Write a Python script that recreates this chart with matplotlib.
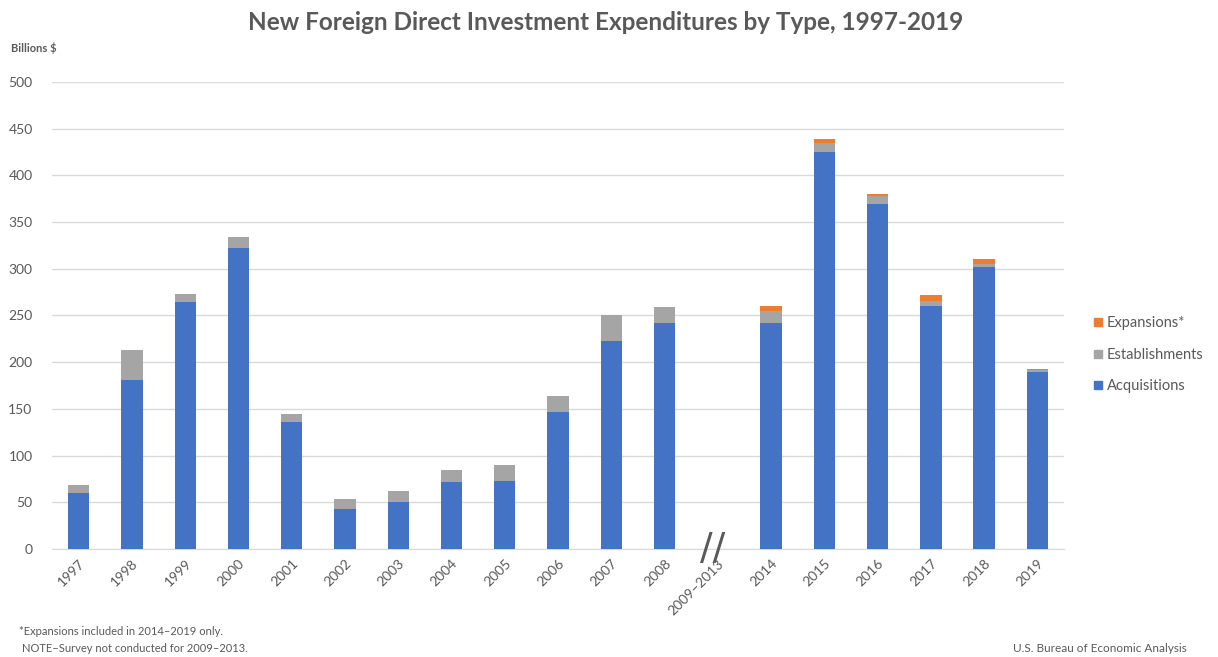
"""New foreign direct investment expenditures by type, stacked bars."""
import numpy as np
import matplotlib.pyplot as plt
from matplotlib.lines import Line2D

plt.rcParams['font.family'] = ['Lato', 'DejaVu Sans']

years = ["1997", "1998", "1999", "2000", "2001", "2002", "2003", "2004",
         "2005", "2006", "2007", "2008", "2009\u20132013", "2014", "2015",
         "2016", "2017", "2018", "2019"]
# billions of dollars; the 2009-2013 slot has no survey data
acquisitions = [60, 181, 264, 322, 136, 43, 50, 72, 73, 147, 223, 242,
                0, 242, 425, 369, 260, 302, 189]
establishments = [9, 32, 9, 12, 9, 10, 12, 13, 17, 17, 27, 17,
                  0, 13, 10, 9, 6, 3, 3]
expansions = [0, 0, 0, 0, 0, 0, 0, 0, 0, 0, 0, 0,
              0, 5, 4, 2, 6, 6, 1]

C_ACQ = "#4472C4"
C_EST = "#A5A5A5"
C_EXP = "#ED7D31"
TXT = "#595959"

fig = plt.figure(figsize=(12.18, 6.57), dpi=100)
ax = fig.add_axes([0.0427, 0.1644, 0.8309, 0.7108])

x = np.arange(len(years))
acq = np.array(acquisitions, dtype=float)
est = np.array(establishments, dtype=float)
exp_ = np.array(expansions, dtype=float)
w = 0.4
ax.bar(x, acq, w, color=C_ACQ, zorder=3)
ax.bar(x, est, w, bottom=acq, color=C_EST, zorder=3)
ax.bar(x, exp_, w, bottom=acq + est, color=C_EXP, zorder=3)

ax.set_xlim(-0.5, len(years) - 0.5)
ax.set_ylim(0, 500)
ax.set_yticks(np.arange(0, 501, 50))
ax.grid(axis='y', color='#D9D9D9', linewidth=1, zorder=0)
for side in ['top', 'right', 'left']:
    ax.spines[side].set_visible(False)
ax.spines['bottom'].set_color('#D9D9D9')
ax.tick_params(length=0, colors=TXT, labelsize=10)
ax.tick_params(axis='y', pad=14)
ax.set_xticks(x)
ax.set_xticklabels(years, rotation=45, ha='right', rotation_mode='anchor')
ax.tick_params(axis='x', pad=6)

# axis break marks at the missing years
gap = years.index("2009\u20132013")
ax.text(gap - 0.1, 0, "//", ha='center', va='center', fontsize=27,
        color=TXT, family='DejaVu Sans', zorder=4)

fig.text(0.497, 0.966, "New Foreign Direct Investment Expenditures by Type, 1997-2019",
         ha='center', va='center', fontsize=17.5, fontweight='bold', color=TXT)
fig.text(0.009, 0.927, "Billions $", ha='left', va='center', fontsize=8,
         fontweight='bold', color=TXT)

handles = [Line2D([], [], marker='s', linestyle='', color=c, markersize=6)
           for c in (C_EXP, C_EST, C_ACQ)]
fig.legend(handles, ["Expansions*", "Establishments", "Acquisitions"],
           loc='center left', bbox_to_anchor=(0.885, 0.46), frameon=False,
           fontsize=10.5, labelcolor=TXT, handletextpad=0.1,
           labelspacing=1.2, handlelength=1)

fig.text(0.016, 0.039, "*Expansions included in 2014\u20132019 only.",
         fontsize=8, color=TXT, va='center')
fig.text(0.018, 0.013, "NOTE\u2013Survey not conducted for 2009\u20132013.",
         fontsize=8, color=TXT, va='center')
fig.text(0.832, 0.013, "U.S. Bureau of Economic Analysis",
         fontsize=8.5, color=TXT, va='center')

fig.savefig("out.png", dpi=100)
